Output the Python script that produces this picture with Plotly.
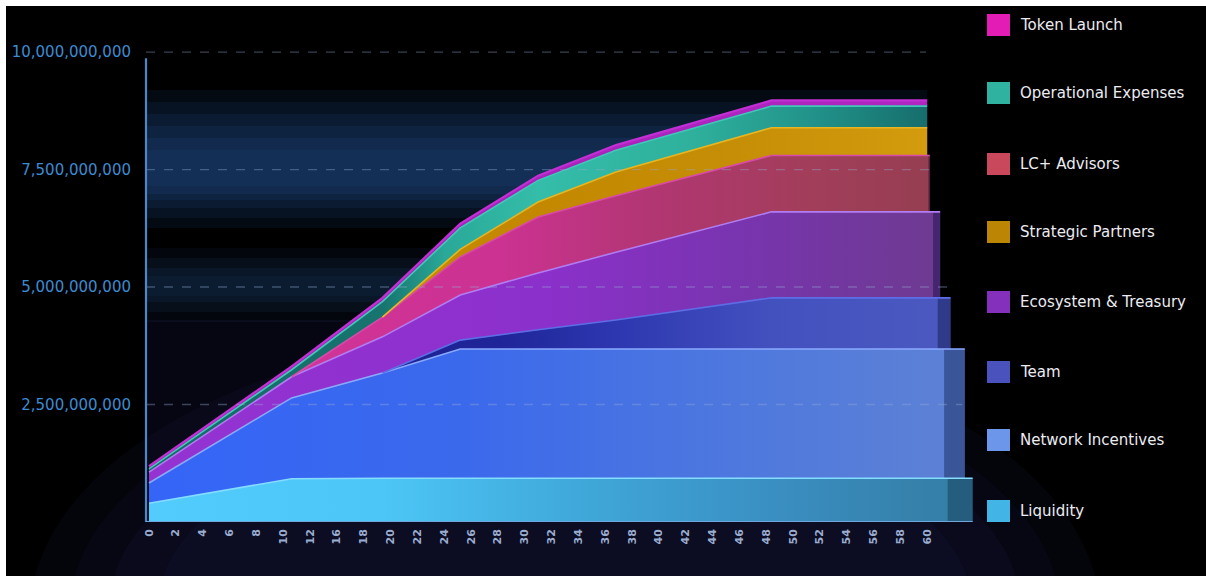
import numpy as np
import plotly.graph_objects as go

# ---- data: cumulative unlock schedule (tokens), month nodes ----
months = [0, 11, 18, 24, 30, 36, 48, 60]

month_labels = ["0", "2", "4", "6", "8", "10", "12", "16", "18", "20", "22", "24",
                "26", "28", "30", "32", "34", "36", "38", "40", "42", "44", "46",
                "48", "50", "52", "54", "56", "58", "60"]

liquidity            = [400e6, 920e6, 930e6, 930e6, 930e6, 930e6, 930e6, 930e6]
network_incentives   = [430e6, 1720e6, 2240e6, 2750e6, 2750e6, 2750e6, 2750e6, 2750e6]
team                 = [0, 0, 0, 190e6, 410e6, 620e6, 1090e6, 1090e6]
ecosystem_treasury   = [230e6, 450e6, 770e6, 960e6, 1210e6, 1440e6, 1830e6, 1830e6]
lc_advisors          = [0, 0, 420e6, 810e6, 1190e6, 1200e6, 1200e6, 1200e6]
strategic_partners   = [0, 0, 0, 160e6, 320e6, 510e6, 590e6, 590e6]
operational_expenses = [70e6, 150e6, 330e6, 460e6, 460e6, 460e6, 460e6, 460e6]
token_launch         = [60e6, 70e6, 80e6, 90e6, 100e6, 110e6, 120e6, 120e6]

y_ticks = [2.5e9, 5e9, 7.5e9, 10e9]

legend_order = ["Token Launch", "Operational Expenses", "LC+ Advisors", "Strategic Partners",
                "Ecosystem & Treasury", "Team", "Network Incentives", "Liquidity"]

# ---- styling per layer (stack order, bottom -> top) ----
layers = [
    dict(name="Liquidity", values=liquidity, depth=63.5,
         grad=[[0, "#52ccfc"], [0.3, "#4cc6f6"], [0.55, "#40a8da"], [0.8, "#3a8fc2"], [1, "#3580aa"]],
         edge="#86dcff", side="rgba(10,30,45,0.35)", legend="#43b4e6"),
    dict(name="Network Incentives", values=network_incentives, depth=62.9,
         grad=[[0, "#3465f7"], [0.4, "#3b69ec"], [0.75, "#4e78de"], [1, "#5b80d6"]],
         edge="#8aa9ff", side="rgba(10,20,60,0.4)", legend="#6b96ea"),
    dict(name="Team", values=team, depth=61.8,
         grad=[[0, "#191c8a"], [0.45, "#1f2598"], [0.6, "#2d37b0"], [0.8, "#4351bf"], [1, "#4a58c0"]],
         edge="#5d6de6", side="rgba(10,15,60,0.4)", legend="#4a53bd"),
    dict(name="Ecosystem & Treasury", values=ecosystem_treasury, depth=61.0,
         grad=[[0, "#9433d2"], [0.5, "#8c30cc"], [0.75, "#7934b0"], [1, "#6e3a92"]],
         edge="#b27cf2", side="rgba(20,10,70,0.45)", legend="#8530bd"),
    dict(name="LC+ Advisors", values=lc_advisors, depth=60.2,
         grad=[[0, "#d2359a"], [0.45, "#cc3292"], [0.65, "#b13672"], [0.85, "#a23e5a"], [1, "#963e52"]],
         edge="#d84aa8", side="rgba(40,10,60,0.5)", legend="#c9485c"),
    dict(name="Strategic Partners", values=strategic_partners, depth=60.0,
         grad=[[0, "#c88c00"], [0.5, "#c38800"], [0.75, "#c58e06"], [1, "#d39b0d"]],
         edge="#e8b523", side="rgba(0,0,0,0)", legend="#bd8504"),
    dict(name="Operational Expenses", values=operational_expenses, depth=60.0,
         grad=[[0, "#136868"], [0.3, "#17746e"], [0.38, "#2aa898"], [0.5, "#34bda9"],
               [0.7, "#2eb09c"], [0.85, "#22938a"], [1, "#166e6c"]],
         edge="#3fcab8", side="rgba(0,0,0,0)", legend="#2fb29f"),
    dict(name="Token Launch", values=token_launch, depth=60.0,
         grad=[[0, "#a21fb5"], [1, "#b026c0"]],
         edge="#c22fd4", side="rgba(0,0,0,0)", legend="#e21cb4"),
]

# figure geometry
W, H = 1206, 576
M_L, M_R, M_T, M_B = 146, 226, 45, 54
PW, PH = W - M_L - M_R, H - M_T - M_B
X_RANGE = [-0.23, 64.07]
Y_RANGE = [0, 10.15e9]


def px_x(px):
    return (px - M_L) / PW


def px_y(py):
    return (H - M_B - py) / PH


fig = go.Figure()

# ---- stacked bands ----
cum = np.zeros(len(months))
for lay in layers:
    vals = np.array(lay["values"], dtype=float)
    lower = cum.copy()
    upper = cum + vals
    cum = upper
    xs = list(months)
    lo = list(lower)
    up = list(upper)
    thick = list(vals > 0)
    if lay["depth"] > months[-1]:
        xs.append(lay["depth"])
        lo.append(lower[-1])
        up.append(upper[-1])
        thick.append(thick[-1])
    fig.add_trace(go.Scatter(
        x=xs + xs[::-1], y=up + lo[::-1], mode="lines", fill="toself",
        line=dict(width=0), fillcolor=lay["grad"][0][1],
        fillgradient=dict(type="horizontal", start=0, stop=months[-1],
                          colorscale=lay["grad"]),
        hoverinfo="skip", showlegend=False, name=lay["name"]))
    # side face of the slab beyond the last month
    if lay["depth"] > months[-1]:
        x_mid = months[-1] + (lay["depth"] - months[-1]) * 0.45
        fig.add_trace(go.Scatter(
            x=[x_mid, lay["depth"], lay["depth"], x_mid],
            y=[upper[-1], upper[-1], lower[-1], lower[-1]],
            mode="lines", fill="toself", line=dict(width=0),
            fillcolor=lay["side"], hoverinfo="skip", showlegend=False))
    # top edge only where the band has some thickness
    ex, ey = [], []
    for i in range(len(xs) - 1):
        if thick[i] or thick[i + 1]:
            if not ex or ex[-1] is None or ex[-1] != xs[i]:
                ex += [None, xs[i]] if ex else [xs[i]]
                ey += [None, up[i]] if ey else [up[i]]
            ex.append(xs[i + 1])
            ey.append(up[i + 1])
    lay["edge_xy"] = (ex, ey)

for lay in layers:
    ex, ey = lay["edge_xy"]
    fig.add_trace(go.Scatter(
        x=ex, y=ey, mode="lines", connectgaps=False,
        line=dict(color=lay["edge"], width=1.6 if lay["name"] != "Token Launch" else 2.2),
        hoverinfo="skip", showlegend=False))

shapes = []

# ---- background glow ----
shapes.append(dict(type="rect", xref="x", yref="paper", layer="below",
                   x0=X_RANGE[0], x1=months[-1], y0=0, y1=px_y(320),
                   fillcolor="rgba(14,14,40,0.45)", line=dict(width=0)))
for x0, x1, y0, y1, a in [(30, 1100, 900, 330, 0.14), (70, 1060, 860, 360, 0.14),
                          (110, 1020, 820, 390, 0.14), (160, 970, 780, 420, 0.12)]:
    shapes.append(dict(type="circle", xref="paper", yref="paper", layer="below",
                       x0=px_x(x0), x1=px_x(x1), y0=px_y(y1), y1=px_y(y0),
                       fillcolor=f"rgba(30,30,80,{a})", line=dict(width=0)))
glow_bands = [
    (90, 228, 0.10), (102, 218, 0.11), (114, 208, 0.12), (126, 200, 0.12),
    (138, 194, 0.12), (150, 186, 0.10),
    (248, 322, 0.08), (258, 312, 0.09), (268, 302, 0.10), (276, 296, 0.08),
]
for top, bot, a in glow_bands:
    shapes.append(dict(type="rect", xref="x", yref="paper", layer="below",
                       x0=X_RANGE[0], x1=months[-1], y0=px_y(bot), y1=px_y(top),
                       fillcolor=f"rgba(40,95,170,{a})", line=dict(width=0)))

# ---- dashed gridlines drawn over the bands ----
grid_ends = {2.5e9: 62.7, 5e9: 61.6, 7.5e9: 60.4, 10e9: 59.9}
for v in y_ticks:
    shapes.append(dict(type="line", xref="x", yref="y", layer="above",
                       x0=X_RANGE[0], x1=grid_ends[v], y0=v, y1=v,
                       line=dict(color="rgba(150,170,210,0.38)", width=1.3, dash="dash")))

# axis lines
shapes.append(dict(type="line", xref="paper", yref="y", x0=0, x1=0, y0=0, y1=9.87e9,
                   line=dict(color="#4f86c6", width=2.2)))
shapes.append(dict(type="line", xref="x", yref="y", x0=X_RANGE[0], x1=63.5, y0=0, y1=0,
                   line=dict(color="#6fa6dc", width=2)))

# white frame strips at top and left edge
shapes.append(dict(type="rect", xref="paper", yref="paper", layer="above",
                   x0=px_x(0), x1=px_x(W), y0=px_y(6), y1=px_y(-2),
                   fillcolor="#ffffff", line=dict(width=0)))
shapes.append(dict(type="rect", xref="paper", yref="paper", layer="above",
                   x0=px_x(-2), x1=px_x(6), y0=px_y(H + 2), y1=px_y(-2),
                   fillcolor="#ffffff", line=dict(width=0)))

# ---- legend ----
annotations = []
legend_rows = [25, 93, 164, 232, 302, 372, 440, 511]
by_name = {lay["name"]: lay for lay in layers}
for name, cy in zip(legend_order, legend_rows):
    shapes.append(dict(type="rect", xref="paper", yref="paper",
                       x0=px_x(987), x1=px_x(1010), y0=px_y(cy + 11), y1=px_y(cy - 11),
                       fillcolor=by_name[name]["legend"], line=dict(width=0)))
    annotations.append(dict(xref="paper", yref="paper", x=px_x(1018), y=px_y(cy),
                            xanchor="left", yanchor="middle", showarrow=False,
                            text=name,
                            font=dict(family="DejaVu Sans", size=15, color="#ececf2")))

tick_pos = [i * months[-1] / (len(month_labels) - 1) for i in range(len(month_labels))]

fig.update_layout(
    width=W, height=H,
    margin=dict(l=M_L, r=M_R, t=M_T, b=M_B),
    paper_bgcolor="#000000", plot_bgcolor="rgba(0,0,0,0)",
    showlegend=False,
    shapes=shapes, annotations=annotations,
    xaxis=dict(range=X_RANGE, tickmode="array", tickvals=tick_pos, ticktext=month_labels,
               tickangle=-90, showgrid=False, zeroline=False, showline=False,
               ticks="", ticklabelstandoff=4,
               tickfont=dict(family="DejaVu Sans", size=11, color="#9aaccf", weight="bold")),
    yaxis=dict(range=Y_RANGE, tickmode="array", tickvals=y_ticks, tickformat=",.0f",
               showgrid=False, zeroline=False, showline=False, ticks="",
               ticklabelstandoff=14,
               tickfont=dict(family="DejaVu Sans", size=15, color="#3d8bd2")),
)

fig.write_html("out.html")
